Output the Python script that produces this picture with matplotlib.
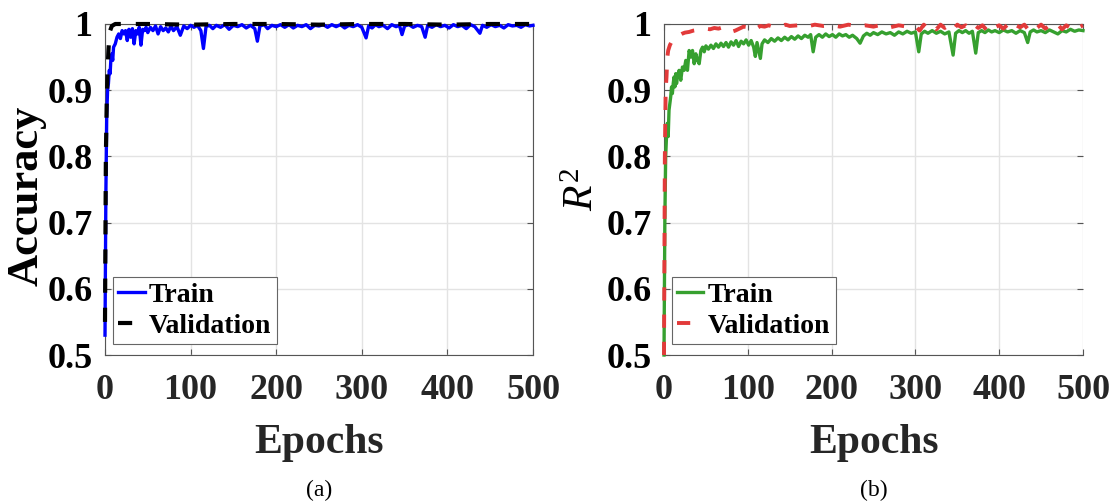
import matplotlib
matplotlib.use("Agg")
import matplotlib.pyplot as plt

plt.rcParams['font.family'] = ['Liberation Serif', 'DejaVu Serif']
plt.rcParams['mathtext.fontset'] = 'custom'
plt.rcParams['mathtext.rm'] = 'Liberation Serif'
plt.rcParams['mathtext.it'] = 'Liberation Serif:italic'
plt.rcParams['mathtext.bf'] = 'Liberation Serif:bold'

# ---- classification accuracy ----
acc_train_ep = [0, 1, 2, 3, 4, 5, 6, 7, 8, 9, 10, 12, 14, 16, 18, 20, 22, 24, 26, 28,
                30, 32, 34, 36, 38, 40, 42, 44, 46, 48, 50, 53, 56, 59, 62, 65, 68, 71, 74, 77,
                80, 84, 88, 92, 96, 100, 104, 108, 112, 115, 118, 122, 126, 130, 135, 140, 145, 150, 155, 160,
                165, 170, 175, 178, 181, 186, 190, 195, 200, 205, 210, 215, 220, 225, 230, 235, 240, 245, 250, 255,
                260, 265, 270, 275, 280, 285, 290, 295, 300, 305, 308, 312, 316, 320, 325, 330, 335, 340, 344, 347,
                350, 355, 360, 365, 370, 374, 377, 382, 387, 392, 397, 402, 407, 412, 417, 422, 427, 432, 438, 441,
                446, 451, 456, 461, 466, 471, 476, 481, 486, 491, 496, 500]
acc_train = [0.53, 0.74, 0.86, 0.90, 0.91, 0.93, 0.925, 0.95, 0.955, 0.945, 0.965, 0.97, 0.98, 0.985, 0.978, 0.99, 0.985, 0.99, 0.975, 0.992,
             0.98, 0.993, 0.97, 0.99, 0.985, 0.995, 0.968, 0.992, 0.99, 0.995, 0.987, 0.995, 0.99, 0.997, 0.985, 0.996, 0.99, 0.994, 0.988, 0.997,
             0.99, 0.996, 0.983, 0.997, 0.993, 0.998, 0.995, 0.998, 0.99, 0.963, 0.996, 0.998, 0.993, 0.998, 0.995, 0.999, 0.992, 0.998, 0.996, 0.999,
             0.994, 0.998, 0.993, 0.974, 0.997, 0.999, 0.993, 0.998, 0.996, 0.999, 0.995, 0.999, 0.994, 0.998, 0.996, 0.999, 0.993, 0.998, 0.997, 0.999,
             0.995, 0.999, 0.996, 0.999, 0.994, 0.998, 0.996, 0.999, 0.995, 0.979, 0.997, 0.994, 0.999, 0.996, 0.998, 0.993, 0.999, 0.996, 0.998, 0.984,
             0.997, 0.999, 0.995, 0.998, 0.996, 0.980, 0.998, 0.995, 0.999, 0.996, 0.998, 0.994, 0.999, 0.996, 0.998, 0.993, 0.999, 0.996, 0.986, 0.998,
             0.995, 0.999, 0.996, 0.998, 0.994, 0.999, 0.997, 0.998, 0.995, 0.999, 0.997, 0.998]

acc_val_ep = [0, 1, 2, 3, 4, 5, 6, 8, 12, 50, 100, 150, 200, 250, 300, 350, 400, 450, 500]
acc_val = [0.55, 0.80, 0.88, 0.93, 0.96, 0.98, 0.99, 0.997, 1.0, 1.0, 0.999, 1.0, 1.0, 0.999, 1.0, 1.0, 0.999, 1.0, 1.0]

# ---- regression R^2 ----
r2_train_ep = [0, 1, 2, 3, 4, 5, 6, 7, 8, 9, 10, 11, 12, 13, 14, 15, 16, 18, 20, 22,
               24, 26, 28, 30, 32, 34, 36, 38, 40, 42, 44, 46, 48, 50, 53, 56, 59, 62, 65, 68,
               71, 74, 77, 80, 83, 86, 89, 92, 95, 98, 101, 104, 107, 109, 111, 113, 115, 117, 120, 124,
               128, 132, 136, 140, 144, 148, 152, 156, 160, 164, 168, 172, 175, 178, 181, 185, 189, 193, 197, 201,
               205, 209, 213, 217, 221, 225, 230, 234, 238, 242, 246, 250, 255, 260, 265, 270, 275, 280, 285, 290,
               295, 300, 304, 307, 311, 315, 320, 325, 330, 335, 340, 345, 348, 352, 356, 360, 364, 368, 372, 375,
               379, 383, 387, 391, 395, 400, 405, 410, 415, 420, 425, 430, 434, 437, 441, 445, 450, 455, 460, 465,
               470, 475, 480, 485, 490, 495, 500]
r2_train = [0.50, 0.70, 0.80, 0.83, 0.85, 0.83, 0.87, 0.88, 0.89, 0.905, 0.895, 0.91, 0.92, 0.905, 0.925, 0.91, 0.92, 0.93, 0.915, 0.935,
            0.93, 0.945, 0.93, 0.96, 0.95, 0.96, 0.94, 0.955, 0.945, 0.94, 0.96, 0.965, 0.958, 0.967, 0.962, 0.968, 0.963, 0.97, 0.965, 0.971,
            0.966, 0.972, 0.965, 0.973, 0.968, 0.975, 0.966, 0.974, 0.97, 0.976, 0.968, 0.975, 0.965, 0.951, 0.972, 0.96, 0.948, 0.97, 0.976, 0.972,
            0.978, 0.974, 0.979, 0.975, 0.98, 0.976, 0.981, 0.977, 0.982, 0.978, 0.983, 0.98, 0.984, 0.958, 0.98, 0.984, 0.98, 0.985, 0.981, 0.984,
            0.98, 0.985, 0.982, 0.984, 0.98, 0.983, 0.978, 0.971, 0.982, 0.986, 0.983, 0.987, 0.984, 0.988, 0.985, 0.987, 0.983, 0.988, 0.985, 0.989,
            0.986, 0.988, 0.958, 0.985, 0.989, 0.986, 0.99, 0.986, 0.989, 0.985, 0.988, 0.953, 0.986, 0.99, 0.987, 0.99, 0.986, 0.989, 0.956, 0.987,
            0.99, 0.987, 0.991, 0.988, 0.99, 0.987, 0.991, 0.988, 0.99, 0.986, 0.99, 0.987, 0.972, 0.988, 0.991, 0.988, 0.99, 0.987, 0.991, 0.988,
            0.985, 0.99, 0.988, 0.992, 0.989, 0.991, 0.99]

r2_val_ep = [0, 1, 2, 3, 4, 5, 7, 9, 12, 15, 18, 21, 25, 30, 35, 40, 45, 50, 55, 60,
             65, 70, 75, 80, 85, 90, 95, 100, 105, 110, 115, 120, 125, 130, 135, 140, 145, 150, 160, 170,
             180, 190, 200, 210, 220, 230, 240, 250, 260, 270, 280, 290, 300, 305, 310, 315, 320, 325, 330, 335,
             340, 345, 350, 355, 360, 365, 370, 375, 380, 385, 390, 395, 400, 405, 410, 415, 420, 425, 430, 435,
             440, 445, 450, 455, 460, 465, 470, 475, 480, 485, 490, 495, 500]
r2_val = [0.50, 0.80, 0.90, 0.92, 0.95, 0.96, 0.968, 0.973, 0.977, 0.98, 0.983, 0.985, 0.987, 0.988, 0.99, 0.991, 0.992, 0.993, 0.992, 0.994,
          0.993, 0.995, 0.991, 0.988, 0.99, 0.993, 0.996, 0.995, 0.997, 0.993, 0.997, 0.996, 0.998, 0.996, 0.998, 0.997, 0.999, 0.997, 0.998, 0.996,
          0.999, 0.997, 0.998, 0.996, 0.999, 0.997, 0.998, 0.996, 0.999, 0.995, 0.998, 0.996, 0.997, 0.99, 0.999, 0.993, 0.998, 0.992, 0.999, 0.994,
          0.998, 0.991, 0.999, 0.995, 0.998, 0.992, 0.999, 0.994, 0.998, 0.991, 0.999, 0.995, 0.998, 0.993, 0.999, 0.992, 0.998, 0.995, 0.999, 0.991,
          0.998, 0.994, 0.999, 0.993, 0.998, 0.995, 0.999, 0.992, 0.998, 0.994, 0.999, 0.995, 0.998]

xticks = [0, 100, 200, 300, 400, 500]
yticks = [0.5, 0.6, 0.7, 0.8, 0.9, 1.0]
ytick_labels = ['0.5', '0.6', '0.7', '0.8', '0.9', '1']

fig = plt.figure(figsize=(11.19, 5.04), dpi=100)
ax1 = fig.add_axes([105 / 1119, 1 - 355 / 504, 428 / 1119, 331 / 504])
ax2 = fig.add_axes([664 / 1119, 1 - 355 / 504, 419 / 1119, 331 / 504])

ax1.plot(acc_train_ep, acc_train, color='#0000ff', lw=2.4, label='Train', clip_on=False, zorder=3)
ax1.plot(acc_val_ep, acc_val, color='black', lw=3.0, dashes=(3.4, 3.6), label='Validation', clip_on=False, zorder=4)

ax2.plot(r2_train_ep, r2_train, color='#36a02f', lw=2.4, label='Train', clip_on=False, zorder=3)
ax2.plot(r2_val_ep, r2_val, color='#e23a3a', lw=2.8, dashes=(3.4, 3.6), label='Validation', clip_on=False, zorder=4)

for ax, ylab, tag in [(ax1, 'Accuracy', '(a)'), (ax2, r'$R^2$', '(b)')]:
    ax.set_xlim(0, 500)
    ax.set_ylim(0.5, 1.0)
    ax.set_xticks(xticks)
    ax.set_yticks(yticks)
    ax.set_yticklabels(ytick_labels)
    ax.grid(True, color='#e3e3e3', lw=1.0)
    ax.set_axisbelow(True)
    ax.tick_params(direction='in', length=4, width=0.8, color='#555555',
                   top=True, right=True, labelsize=26)
    ax.tick_params(axis='x', pad=14, labelcolor='#262626')
    ax.tick_params(axis='y', pad=9)
    for lab in ax.get_xticklabels() + ax.get_yticklabels():
        lab.set_fontweight('bold')
    for sp in ax.spines.values():
        sp.set_color('#555555')
        sp.set_linewidth(0.8)
    ax.set_xlabel('Epochs', fontsize=30, fontweight='bold', color='#262626', va='center')
    ax.xaxis.set_label_coords(0.5, -0.266)
    if tag == '(a)':
        ax.set_ylabel(ylab, fontsize=32, fontweight='bold', va='center')
        ax.yaxis.set_label_coords(-0.183, 0.48)
    else:
        ax.set_ylabel(ylab, fontsize=30, va='center')
        ax.yaxis.set_label_coords(-0.193, 0.5)
    leg = ax.legend(loc='lower left', bbox_to_anchor=(0.018, 0.033),
                    prop={'weight': 'bold', 'size': 20}, frameon=True, fancybox=False,
                    framealpha=1, edgecolor='#666666', handlelength=0.95,
                    handletextpad=0.15, borderpad=0.2, borderaxespad=0, labelspacing=0.2)
    leg.get_frame().set_linewidth(0.8)
    bbox = ax.get_position()
    fig.text(bbox.x0 + bbox.width / 2, 1 - 490 / 504, tag, fontsize=17,
             ha='center', va='center')

ax2.spines['right'].set_visible(False)

fig.savefig('out.png', dpi=100)
